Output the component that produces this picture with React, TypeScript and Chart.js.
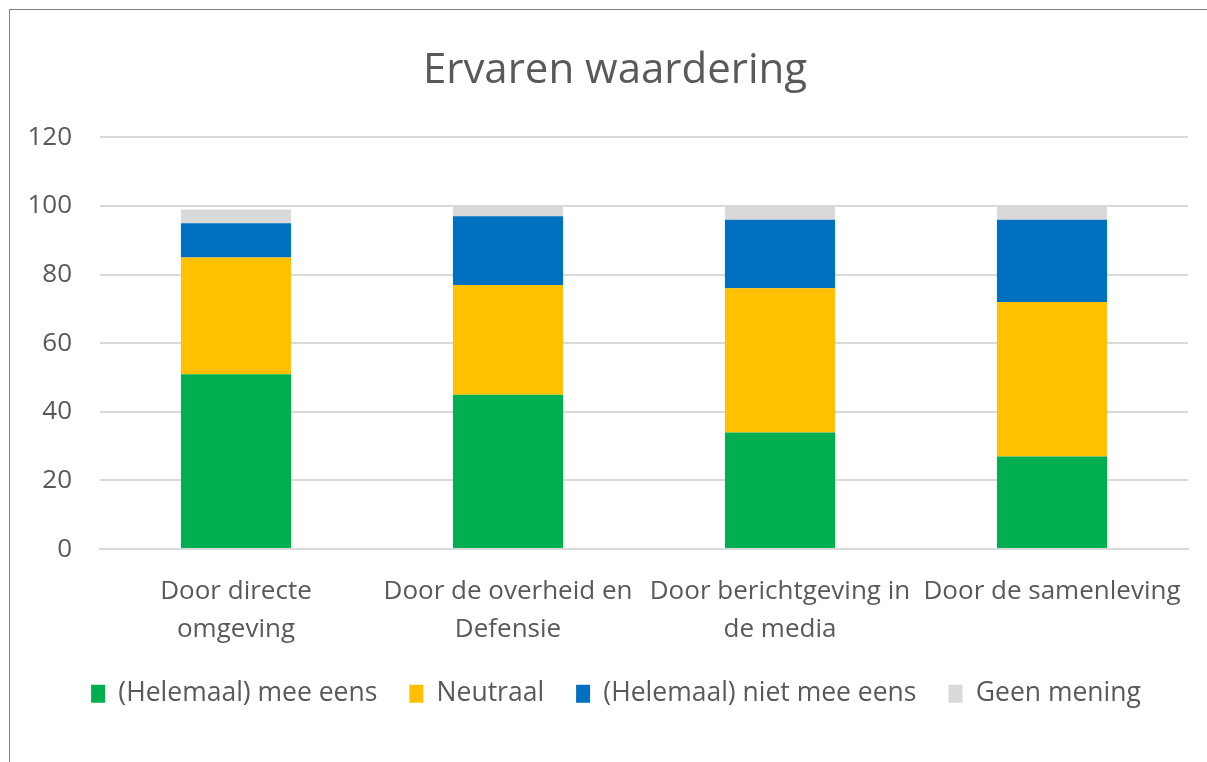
import React, { useEffect, useRef } from "react";
import { Chart, registerables } from "chart.js";

Chart.register(...registerables);

const categories: string[][] = [
  ["Door directe", "omgeving"],
  ["Door de overheid en", "Defensie"],
  ["Door berichtgeving in", "de media"],
  ["Door de samenleving"],
];
const eens = [51, 45, 34, 27];
const neutraal = [34, 32, 42, 45];
const nietEens = [10, 20, 20, 24];
const geenMening = [4, 3, 4, 4];
const yTicks = [0, 20, 40, 60, 80, 100, 120];

const FONT = "'Open Sans', sans-serif";
const TXT = "#595959";

const shiftBlocks = {
  id: "shiftBlocks",
  afterLayout(chart: any) {
    const lg = chart.legend;
    if (lg) {
      lg.left += 12;
      lg.right += 12;
    }
    const tb = chart.titleBlock;
    if (tb) {
      tb.left += 11;
      tb.right += 11;
      tb.top -= 2;
      tb.bottom -= 2;
    }
  },
};

export default function App() {
  const ref = useRef<HTMLCanvasElement>(null);
  useEffect(() => {
    if (!ref.current) return;
    const chart = new Chart(ref.current, {
      type: "bar",
      data: {
        labels: categories,
        datasets: [
          { label: "(Helemaal) mee eens", data: eens, backgroundColor: "#00B050" },
          { label: "Neutraal", data: neutraal, backgroundColor: "#FFC000" },
          { label: "(Helemaal) niet mee eens", data: nietEens, backgroundColor: "#0070C0" },
          { label: "Geen mening", data: geenMening, backgroundColor: "#D9D9D9" },
        ],
      },
      plugins: [shiftBlocks],
      options: {
        animation: false,
        responsive: false,
        layout: { padding: { left: 10, right: 19, top: 38, bottom: 45 } },
        datasets: { bar: { barPercentage: 0.405, categoryPercentage: 1 } },
        plugins: {
          title: {
            display: true,
            text: "Ervaren waardering",
            color: TXT,
            font: { family: FONT, size: 42, weight: "normal" },
            padding: { top: 0, bottom: 39 },
          },
          legend: {
            position: "bottom",
            labels: {
              color: TXT,
              font: { family: FONT, size: 26.5 },
              boxWidth: 14,
              boxHeight: 18,
              padding: 32,
            },
          },
          tooltip: { enabled: false },
        },
        scales: {
          x: {
            stacked: true,
            grid: { display: false },
            border: { color: "#D9D9D9", width: 2 },
            afterFit: (axis: any) => {
              axis.height = axis.height - 16;
            },
            ticks: {
              color: TXT,
              font: { family: FONT, size: 26, lineHeight: 1.45 },
              maxRotation: 0,
              autoSkip: false,
              padding: 16,
            },
          },
          y: {
            stacked: true,
            min: 0,
            max: 120,
            afterBuildTicks: (axis: any) => {
              axis.ticks = yTicks.map((v) => ({ value: v }));
            },
            afterFit: (axis: any) => {
              axis.width = 80;
            },
            grid: { color: "#D9D9D9", lineWidth: 2, drawTicks: false },
            border: { display: false },
            ticks: { color: TXT, font: { family: FONT, size: 26 }, padding: 28 },
          },
        },
      },
    });
    return () => chart.destroy();
  }, []);
  return (
    <div
      style={{
        position: "absolute",
        left: 9,
        top: 9,
        width: 1198,
        height: 753,
        borderTop: "1px solid #7f7f7f",
        borderLeft: "1px solid #7f7f7f",
        boxSizing: "border-box",
        overflow: "hidden",
        background: "#fff",
      }}
    >
      <canvas ref={ref} width={1197} height={752} style={{ display: "block" }} />
    </div>
  );
}
